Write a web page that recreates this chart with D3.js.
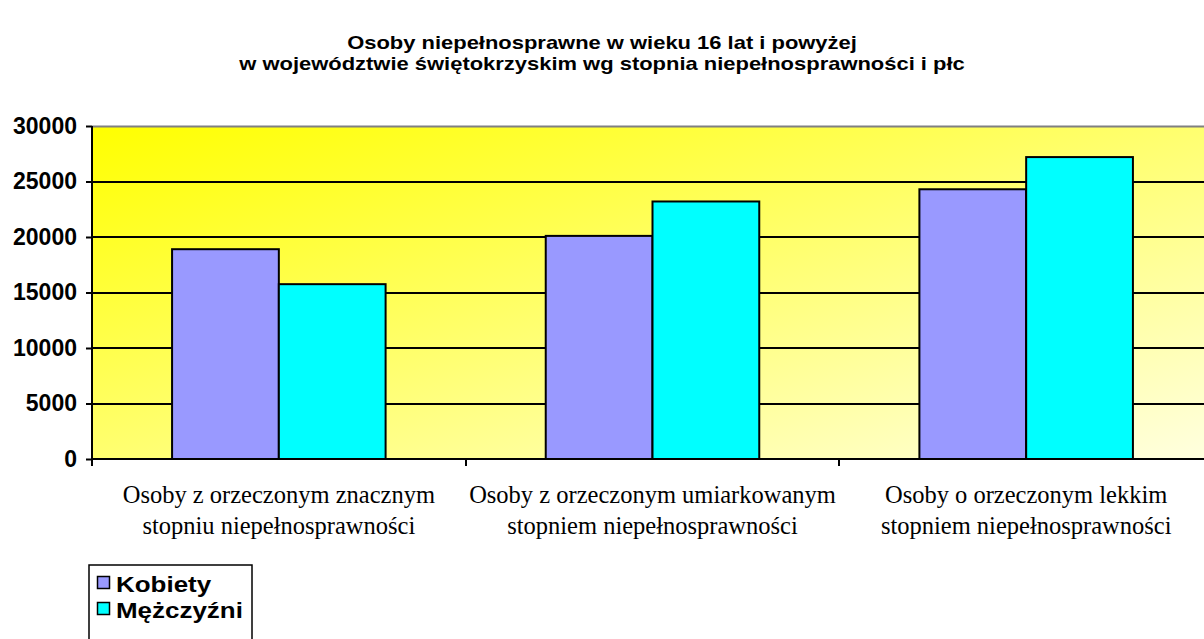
<!DOCTYPE html>
<html>
<head>
<meta charset="utf-8">
<script src="https://cdn.jsdelivr.net/npm/d3@7"></script>
<style>
  body { margin: 0; background: #fff; }
  svg { display: block; }
</style>
</head>
<body>
<svg id="chart" width="1204" height="639"></svg>
<script>
var width = 1204, height = 639;

// data
var categories = [
  ["Osoby z orzeczonym znacznym", "stopniu niepełnosprawności"],
  ["Osoby z orzeczonym umiarkowanym", "stopniem niepełnosprawności"],
  ["Osoby o orzeczonym lekkim", "stopniem niepełnosprawności"]
];
var seriesNames = ["Kobiety", "Mężczyźni"];
var kobiety = [18900, 20100, 24300];
var mezczyzni = [15750, 23200, 27200];
var yTicks = [0, 5000, 10000, 15000, 20000, 25000, 30000];
var colors = ["#9999FF", "#00FFFF"];

var plot = {left: 92, top: 126, right: 1213, bottom: 459};
var sans = "Arial, 'Liberation Sans', sans-serif";
var serif = "'Times New Roman', 'Liberation Serif', serif";

var svg = d3.select("#chart");

var defs = svg.append("defs");
var grad = defs.append("linearGradient").attr("id", "bg")
    .attr("x1", "0%").attr("y1", "0%").attr("x2", "100%").attr("y2", "100%");
grad.append("stop").attr("offset", "0%").attr("stop-color", "#FFFF00");
grad.append("stop").attr("offset", "100%").attr("stop-color", "#FFFFE0");

// title (text is drawn a bit wider, like the original)
var titleLines = ["Osoby niepełnosprawne w wieku 16 lat i powyżej",
                  "w województwie świętokrzyskim wg stopnia niepełnosprawności i płc"];
svg.append("g")
    .attr("transform", "translate(602,0) scale(1.22,1)")
    .selectAll("text")
    .data(titleLines)
    .join("text")
    .attr("x", 0)
    .attr("y", function(d, i) { return 49 + i * 21; })
    .attr("text-anchor", "middle")
    .attr("font-family", sans).attr("font-weight", "bold").attr("font-size", 18)
    .text(function(d) { return d; });

var x0 = d3.scaleBand().domain(d3.range(categories.length))
    .range([plot.left, plot.right]).paddingInner(0).paddingOuter(0);
var x1 = d3.scaleBand().domain(seriesNames)
    .range([0, x0.bandwidth()]).paddingInner(0).paddingOuter(0.75);
var y = d3.scaleLinear().domain([0, 30000]).range([plot.bottom, plot.top]);

// plot background
svg.append("rect")
    .attr("x", plot.left).attr("y", plot.top)
    .attr("width", plot.right - plot.left).attr("height", plot.bottom - plot.top)
    .attr("fill", "url(#bg)");
svg.append("line")
    .attr("x1", plot.left).attr("x2", plot.right)
    .attr("y1", plot.top + 0.5).attr("y2", plot.top + 0.5)
    .attr("stroke", "#808080").attr("stroke-width", 2);

// gridlines
svg.append("g").selectAll("line")
    .data(yTicks.filter(function(d) { return d > 0 && d < 30000; }))
    .join("line")
    .attr("x1", plot.left).attr("x2", plot.right)
    .attr("y1", function(d) { return Math.round(y(d)); })
    .attr("y2", function(d) { return Math.round(y(d)); })
    .attr("stroke", "#000").attr("stroke-width", 2);

// bars
var rows = seriesNames.map(function(name, si) {
  var vals = si === 0 ? kobiety : mezczyzni;
  return vals.map(function(v, ci) { return {s: name, si: si, c: ci, v: v}; });
});
svg.append("g").selectAll("g")
    .data(rows)
    .join("g")
    .attr("fill", function(d, i) { return colors[i]; })
    .selectAll("rect")
    .data(function(d) { return d; })
    .join("rect")
    .attr("x", function(d) { return x0(d.c) + x1(d.s); })
    .attr("y", function(d) { return y(d.v); })
    .attr("width", x1.bandwidth())
    .attr("height", function(d) { return y(0) - y(d.v); })
    .attr("stroke", "#000").attr("stroke-width", 2);

// y axis
var yAxis = svg.append("g")
    .attr("transform", "translate(" + plot.left + ",0)")
    .call(d3.axisLeft(y).tickValues(yTicks).tickSize(6).tickPadding(9).tickFormat(d3.format("d")));
yAxis.select(".domain").attr("stroke-width", 2).attr("d", "M0," + plot.top + "V" + (plot.bottom + 6));
yAxis.selectAll(".tick line").attr("stroke-width", 2);
yAxis.selectAll(".tick text")
    .attr("font-family", sans).attr("font-weight", "bold").attr("font-size", 23)
    .attr("fill", "#000");
yAxis.attr("font-size", null).attr("font-family", null);

// x axis
var xAxisG = svg.append("g")
    .attr("transform", "translate(0," + plot.bottom + ")");
xAxisG.append("line")
    .attr("x1", plot.left).attr("x2", plot.right)
    .attr("stroke", "#000").attr("stroke-width", 2);
xAxisG.selectAll(".tk")
    .data(d3.range(categories.length))
    .join("line").attr("class", "tk")
    .attr("x1", function(d) { return Math.round(x0(d)); })
    .attr("x2", function(d) { return Math.round(x0(d)); })
    .attr("y1", 0).attr("y2", 7)
    .attr("stroke", "#000").attr("stroke-width", 2);

var labels = svg.append("g").selectAll("text")
    .data(categories)
    .join("text")
    .attr("text-anchor", "middle")
    .attr("x", function(d, i) { return x0(i) + x0.bandwidth() / 2; })
    .attr("y", 503)
    .attr("font-family", serif).attr("font-size", 24.5);
labels.selectAll("tspan")
    .data(function(d) { return d; })
    .join("tspan")
    .attr("x", function() { return this.parentNode.getAttribute("x"); })
    .attr("dy", function(d, i) { return i === 0 ? 0 : 31; })
    .text(function(d) { return d; });

// legend
var legend = svg.append("g");
legend.append("rect")
    .attr("x", 89).attr("y", 565).attr("width", 163).attr("height", 80)
    .attr("fill", "#fff").attr("stroke", "#000").attr("stroke-width", 1.5);
var li = legend.selectAll("g.item")
    .data(seriesNames)
    .join("g").attr("class", "item")
    .attr("transform", function(d, i) { return "translate(97," + (583 + i * 26) + ")"; });
li.append("rect")
    .attr("x", 0.5).attr("y", -6.5).attr("width", 12).attr("height", 12)
    .attr("fill", function(d, i) { return colors[i]; })
    .attr("stroke", "#000").attr("stroke-width", 1.5);
li.append("text")
    .attr("transform", "translate(19,8.5) scale(1.18,1)")
    .attr("font-family", sans).attr("font-weight", "bold").attr("font-size", 22)
    .text(function(d) { return d; });
</script>
</body>
</html>
